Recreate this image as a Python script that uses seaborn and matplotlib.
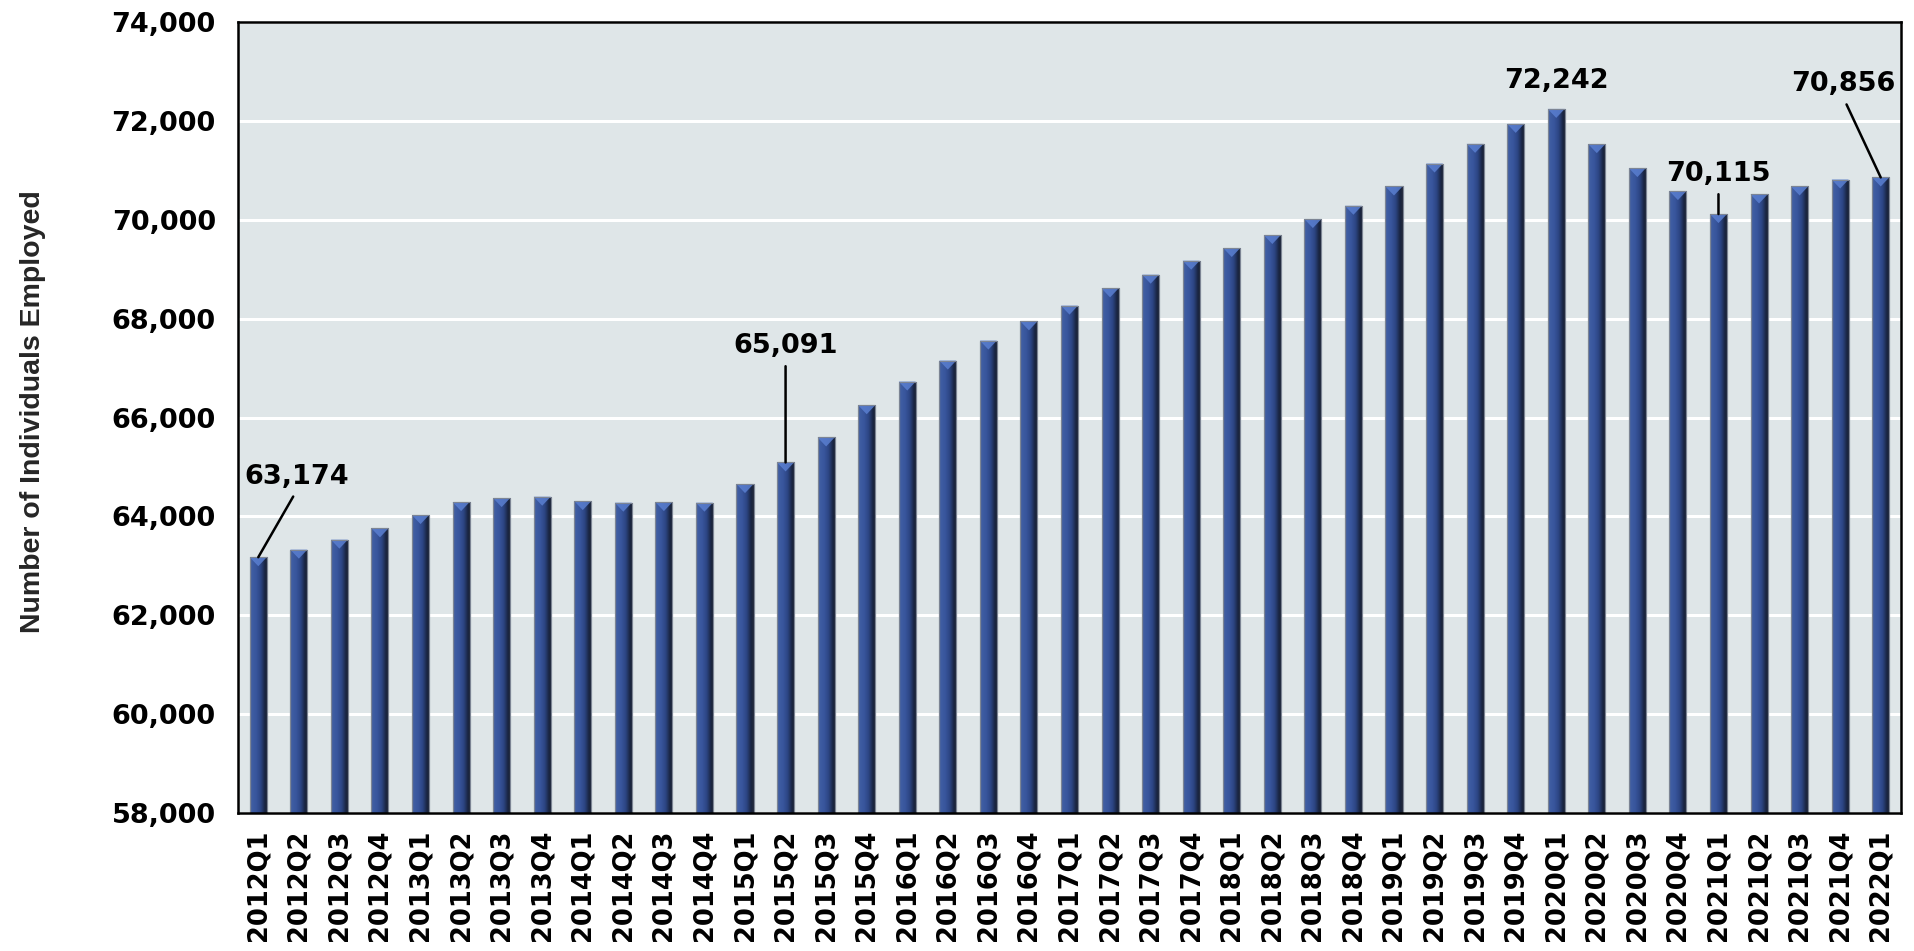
import numpy as np
import matplotlib
matplotlib.use("Agg")
import matplotlib.pyplot as plt
from matplotlib.colors import LinearSegmentedColormap
from matplotlib.patches import Polygon
from matplotlib.ticker import FuncFormatter, MultipleLocator
import seaborn as sns

# Quarterly employment counts
quarters = [
    "2012Q1", "2012Q2", "2012Q3", "2012Q4",
    "2013Q1", "2013Q2", "2013Q3", "2013Q4",
    "2014Q1", "2014Q2", "2014Q3", "2014Q4",
    "2015Q1", "2015Q2", "2015Q3", "2015Q4",
    "2016Q1", "2016Q2", "2016Q3", "2016Q4",
    "2017Q1", "2017Q2", "2017Q3", "2017Q4",
    "2018Q1", "2018Q2", "2018Q3", "2018Q4",
    "2019Q1", "2019Q2", "2019Q3", "2019Q4",
    "2020Q1", "2020Q2", "2020Q3", "2020Q4",
    "2021Q1", "2021Q2", "2021Q3", "2021Q4",
    "2022Q1",
]
employed = [
    63174, 63327, 63529, 63758,
    64026, 64289, 64370, 64398,
    64309, 64277, 64289, 64277,
    64653, 65091, 65596, 66248,
    66727, 67152, 67556, 67945,
    68263, 68612, 68889, 69172,
    69428, 69691, 70014, 70283,
    70673, 71137, 71535, 71939,
    72242, 71529, 71045, 70580,
    70115, 70511, 70673, 70814,
    70856,
]

# Callouts: quarter -> (text offset in points, draw leader line)
callouts = {
    "2012Q1": ((28, 58), True),
    "2015Q2": ((0, 84), True),
    "2020Q1": ((0, 20), False),
    "2021Q1": ((0, 29), True),
    "2022Q1": ((-27, 67), True),
}

y_min, y_max = 58000, 74000

sns.set_theme(style="white")
plt.rcParams["font.family"] = ["DejaVu Sans"]

fig = plt.figure(figsize=(19.14, 9.51), dpi=100)
ax = fig.add_axes([238 / 1914, 1 - 813 / 951, (1901 - 238) / 1914, (813 - 22) / 951])
ax.set_facecolor("#dfe6e8")

sns.barplot(x=quarters, y=employed, color="#34508e", width=0.42,
            edgecolor="#7d8594", linewidth=0.8, ax=ax, zorder=3)

ax.set_ylim(y_min, y_max)
ax.set_xlim(-0.5, len(quarters) - 0.5)

# Horizontal shading across each bar to give a rounded look
bar_cmap = LinearSegmentedColormap.from_list(
    "bar_shade",
    [(0.0, "#5a6b92"), (0.1, "#3f5da3"), (0.35, "#38559c"),
     (0.6, "#2c4583"), (0.85, "#19243f"), (1.0, "#252c3c")],
)
grad = np.linspace(0, 1, 64).reshape(1, -1)
fig.canvas.draw()
px_per_unit = ax.bbox.height / (y_max - y_min)
cap_depth = 9 / px_per_unit
for bar in list(ax.patches):
    x0 = bar.get_x()
    w = bar.get_width()
    top = bar.get_y() + bar.get_height()
    im = ax.imshow(grad, cmap=bar_cmap, aspect="auto",
                   extent=[x0, x0 + w, y_min, top], zorder=3.5,
                   interpolation="bilinear")
    im.set_clip_path(bar)
    cap = Polygon([[x0, top], [x0 + w, top], [x0 + w / 2, top - cap_depth]],
                  closed=True, facecolor="#5a7fd0", edgecolor="none",
                  alpha=0.85, zorder=3.6)
    ax.add_patch(cap)
    ax.add_patch(plt.Rectangle((x0, y_min), w, top - y_min, fill=False,
                               edgecolor="#7d8594", linewidth=0.8, zorder=3.7))

ax.set_ylim(y_min, y_max)
ax.set_xlim(-0.5, len(quarters) - 0.5)

# Grid and frame
ax.yaxis.set_major_locator(MultipleLocator(2000))
ax.grid(axis="y", color="white", linewidth=2.2, zorder=0)
ax.grid(axis="x", visible=False)
ax.set_axisbelow(True)
for side in ["left", "right", "top", "bottom"]:
    ax.spines[side].set_visible(True)
    ax.spines[side].set_color("black")
    ax.spines[side].set_linewidth(1.8)
    ax.spines[side].set_zorder(5)

ax.yaxis.set_major_formatter(FuncFormatter(lambda v, _: f"{int(v):,}"))
ax.tick_params(axis="y", length=0, pad=16)
ax.tick_params(axis="x", length=0, pad=12)
ax.set_xticks(range(len(quarters)))
ax.set_xticklabels(quarters, rotation=90, fontsize=18.5, fontweight="bold",
                   color="black")
for lab in ax.get_yticklabels():
    lab.set_fontsize(19.5)
    lab.set_fontweight("bold")
    lab.set_color("black")
ax.set_xlabel("")
ax.set_ylabel("")

fig.text(33 / 1914, 1 - 412 / 951, "Number of Individuals Employed",
         rotation=90, ha="center", va="center", fontsize=20.5,
         fontweight="bold", family=["Liberation Sans", "DejaVu Sans"])

# Value callouts
for q, (offset, leader) in callouts.items():
    i = quarters.index(q)
    v = employed[i]
    kwargs = dict(xy=(i, v), xytext=offset, textcoords="offset points",
                  ha="center", va="center",
                  fontsize=19.5, fontweight="bold", color="black", zorder=6)
    if leader:
        kwargs["arrowprops"] = dict(arrowstyle="-", color="black", lw=1.8,
                                    shrinkA=3, shrinkB=0, relpos=(0.5, 0.0))
    ax.annotate(f"{v:,}", **kwargs)

fig.savefig("out.png", dpi=100)
